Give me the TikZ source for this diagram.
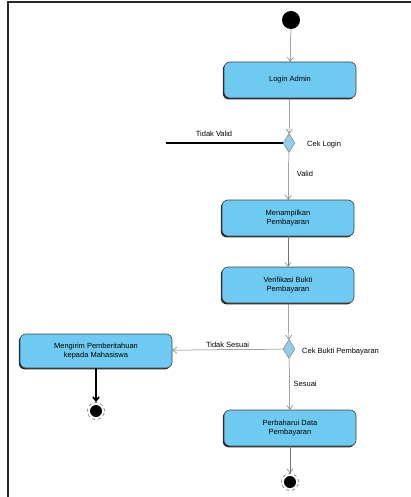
\documentclass[tikz,border=0pt]{standalone}
\usepackage{fontspec}
\setmainfont{Liberation Sans}
\usetikzlibrary{arrows.meta,shapes.geometric,shadows}
\definecolor{actfill}{RGB}{110,202,240}
\definecolor{decfill}{RGB}{150,205,230}
\tikzset{
  x=1pt, y=-1pt,
  act/.style={rectangle, rounded corners=6pt, draw=black!75, line width=0.6pt,
    fill=actfill, minimum width=132pt, minimum height=36pt, align=center,
    font=\fontsize{7.5}{9}\selectfont, inner sep=2pt,
    drop shadow={shadow xshift=-1.2pt, shadow yshift=-1.4pt, fill=black!85, opacity=1}},
  dec/.style={diamond, draw=black!55, fill=decfill, minimum width=12pt,
    minimum height=19pt, inner sep=0pt},
  startdot/.style={circle, fill=black, minimum size=18pt, inner sep=0pt},
  endring/.style={circle, draw=black!60, dashed, line width=0.6pt, minimum size=17pt, inner sep=0pt},
  flow/.style={draw=black!55, line width=0.5pt, -{Straight Barb[length=4pt,width=6pt]}},
  heavy/.style={draw=black, line width=1.6pt},
  lbl/.style={font=\fontsize{7.5}{9}\selectfont, inner sep=1pt},
}
\begin{document}
\begin{tikzpicture}
\useasboundingbox (0,0) rectangle (411,497);
% frame
\draw[line width=1.6pt, black!85] (8,497) -- (8,2) -- (411,2);

% nodes
\node[startdot] (start) at (291,20) {};
\node[act] (login) at (290,80) {Login Admin};
\node[dec] (cek1) at (289,143) {};
\coordinate (tv) at (166,143);
\node[act] (tampil) at (288,218) {Menampilkan\\Pembayaran};
\node[act] (verif) at (288,285) {Verifikasi Bukti\\Pembayaran};
\node[dec] (cek2) at (289,349) {};
\node[act, minimum width=152pt, minimum height=34pt] (kirim) at (96,351) {Mengirim Pemberitahuan\\kepada Mahasiswa};
\node[endring] (end1) at (96,411) {};
\fill (end1.center) circle (6pt);
\node[act] (perbarui) at (290,428) {Perbaharui Data\\Pembayaran};
\node[endring] (end2) at (290,482) {};
\fill (end2.center) circle (6pt);

% connectors
\draw[flow] (start) -- (login);
\draw[flow] (login) -- (cek1);
\draw[heavy] (cek1) -- (tv);
\draw[flow] (cek1) -- node[lbl, pos=0.45, right=7pt] {Valid} (tampil);
\draw[flow] (tampil) -- (verif);
\draw[flow] (verif) -- (cek2);
\draw[flow] (cek2) -- node[lbl, pos=0.5, above=1pt] {Tidak Sesuai} (kirim);
\draw[flow] (cek2) -- node[lbl, pos=0.5, right=3pt] {Sesuai} (perbarui);
\draw[heavy, -{Straight Barb[length=4pt,width=6pt]}] (kirim) -- (end1);
\draw[flow] (perbarui) -- (end2);

% labels
\node[lbl] (tvl) at (214,134) {Tidak Valid};
\node[lbl, anchor=west] (cekl) at (306,145) {Cek Login};
\node[lbl, anchor=west] (cek2l) at (301,352) {Cek Bukti Pembayaran};
\end{tikzpicture}
\end{document}
